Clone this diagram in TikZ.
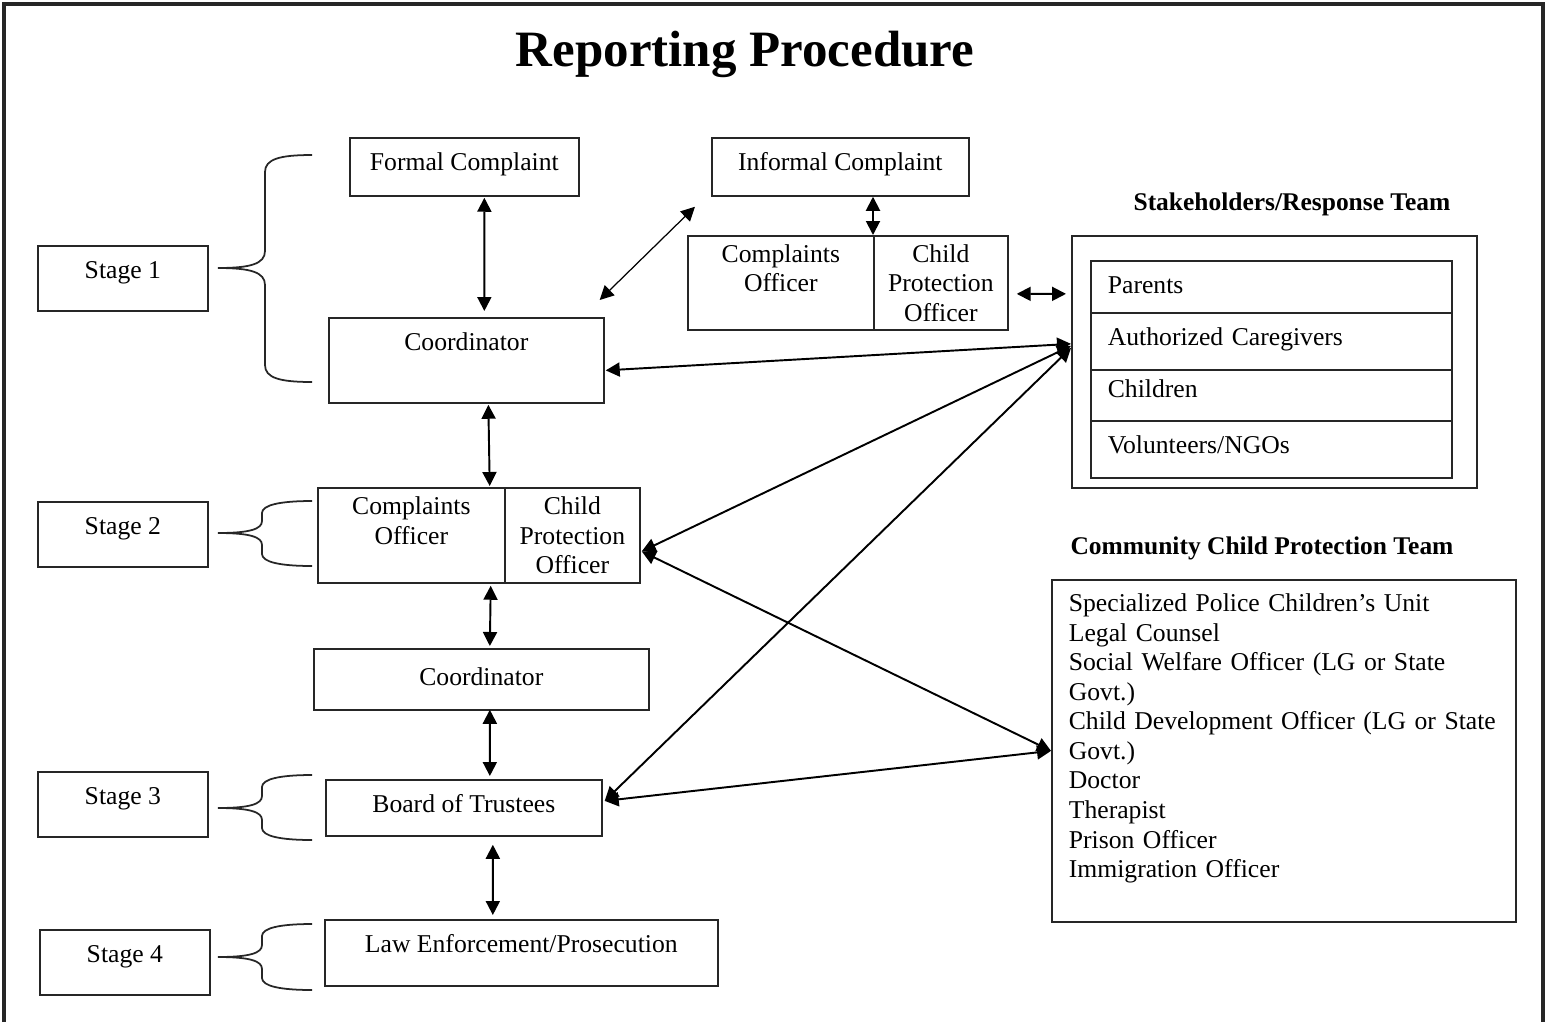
\documentclass[tikz,border=0pt]{standalone}
\usepackage{fontspec}
\setmainfont{Liberation Serif}
\usetikzlibrary{arrows.meta,calc}

\begin{document}
\begin{tikzpicture}[
    , x=0.02cm, y=-0.02cm
    , every node/.style = {font=\fontsize{14.6}{16.8}\selectfont}
    , box/.style = {draw=black!85,line width=1pt,inner sep=0pt,anchor=north west,align=center,text height=0.66cm}
    , stagebox/.style = {box,minimum width=3.4cm,text depth=0.64cm}
    , cell/.style = {draw=black!85,line width=1pt,inner sep=0pt,anchor=north west,align=center,minimum height=1.9cm}
    , row/.style = {box,align=left,text width=6.54cm,inner xsep=0.34cm}
    , head/.style = {font=\fontsize{14.5}{17}\selectfont\bfseries}
    , arr/.style = {{Triangle[length=0.28cm,width=0.28cm]}-{Triangle[length=0.28cm,width=0.28cm]},line width=1.1pt}
    , thinarr/.style = {arr,line width=0.7pt}
    , brace/.style = {draw=black!85,line width=1pt}
]
\useasboundingbox (0,0) rectangle (1549,1022);
\draw[draw=black!85,line width=2.8pt] (4,1022) -- (4,4) -- (1543,4) -- (1543,1022);
\node[font=\fontsize{29}{34}\selectfont\bfseries] (title) at (745,54) {Reporting Procedure};

% stages and braces
\foreach \s/\x/\y in {1/37/245, 2/37/501, 3/37/771, 4/39/929}
    \node[stagebox] (stage\s) at (\x,\y) {Stage \s};
\foreach \t/\m/\b/\c/\p in {155/268/382/17/265, 501/533/566/12/262, 775/808/840/12/262, 924/957/990/12/262}
    \draw[brace] (312,\t) .. controls (280,\t) and (\p,\t+4) .. (\p,\t+\c) -- (\p,\m-\c)
        .. controls (\p,\m-4) and (250,\m) .. (218,\m) .. controls (250,\m) and (\p,\m+4) .. (\p,\m+\c)
        -- (\p,\b-\c) .. controls (\p,\b-4) and (280,\b) .. (312,\b);

% main column
\node[box,minimum width=4.58cm,text depth=0.5cm] (fc) at (349,137) {Formal Complaint};
\node[box,minimum width=5.14cm,text depth=0.5cm] (ic) at (711,137) {Informal Complaint};
\node[cell,minimum width=3.72cm,minimum height=1.88cm] (coA) at (687,235) {Complaints\\Officer\\\phantom{Officer}};
\node[cell,minimum width=2.68cm,minimum height=1.88cm] (cpA) at (873,235) {Child\\Protection\\Officer};
\node[box,minimum width=5.5cm,text depth=1.04cm] (coordA) at (328,317) {Coordinator};
\node[cell,minimum width=3.74cm] (coB) at (317,487) {Complaints\\Officer\\\phantom{Officer}};
\node[cell,minimum width=2.7cm] (cpB) at (504,487) {Child\\Protection\\Officer};
\node[box,minimum width=6.7cm,text height=0.74cm,text depth=0.48cm] (coordB) at (313,648) {Coordinator};
\node[box,minimum width=5.52cm,text depth=0.46cm] (board) at (325,779) {Board of Trustees};
\node[box,minimum width=7.86cm,text depth=0.66cm] (law) at (324,919) {Law Enforcement/Prosecution};

% stakeholders
\node[head] (stakehead) at (1292,204) {Stakeholders/Response Team};
\node[draw=black!85,line width=1pt,inner sep=0pt,anchor=north west,minimum width=8.1cm,minimum height=5.04cm] (stake) at (1071,235) {};
\foreach \t/\y/\h/\d [count=\i] in {Parents/260/0.66/0.38, Authorized Caregivers/312/0.66/0.48, Children/369/0.56/0.46, {Volunteers/NGOs}/420/0.66/0.48}
    \node[row,text height=\h cm,text depth=\d cm] (row\i) at (1090,\y) {\t};

% community team
\node[head] (commhead) at (1262,548) {Community Child Protection Team};
\node[box,align=left,text width=8.6cm,inner xsep=0.34cm,text height=0.64cm,text depth=6.2cm] (comm) at (1051,579)
    {Specialized Police Children's Unit\\Legal Counsel\\Social Welfare Officer (LG or State\\Govt.)\\Child Development Officer (LG or State\\Govt.)\\Doctor\\Therapist\\Prison Officer\\Immigration Officer};

% arrows
\draw[arr] ($(fc.south)+(20,1)$) -- ($(coordA.north)+(18,-6)$);
\draw[thinarr] ($(coordA.north east)+(-5,-17)$) -- ($(ic.south west)+(-16,10)$);
\draw[arr] (ic.south -| cpA.north west) -- (cpA.north west);
\draw[arr] ($(cpA.east)+(8,11)$) -- ($(stake.west)+(-5,-68)$);
\draw[arr] ($(coordA.east)+(1,10)$) -- ($(stake.west)+(0,-18)$);
\draw[arr] ($(coordA.south)+(22,1)$) -- ($(coB.north east)+(-16,-1)$);
\draw[arr] ($(coB.south east)+(-15,2)$) -- ($(coordB.north)+(8.5,-2)$);
\draw[arr] ($(coordB.south)+(8.5,-1)$) -- ($(board.north)+(26,-3)$);
\draw[arr] ($(board.south)+(29,8)$) -- ($(law.north)+(-28.5,-4)$);
\draw[arr] ($(cpB.east)+(1,16)$) -- ($(stake.west)+(0,-16)$);
\draw[arr] ($(cpB.east)+(1,16)$) -- (comm.west);
\draw[arr] ($(board.east)+(2,-7)$) -- ($(stake.west)+(0,-14)$);
\draw[arr] ($(board.east)+(2,-7)$) -- (comm.west);
\end{tikzpicture}
\end{document}
